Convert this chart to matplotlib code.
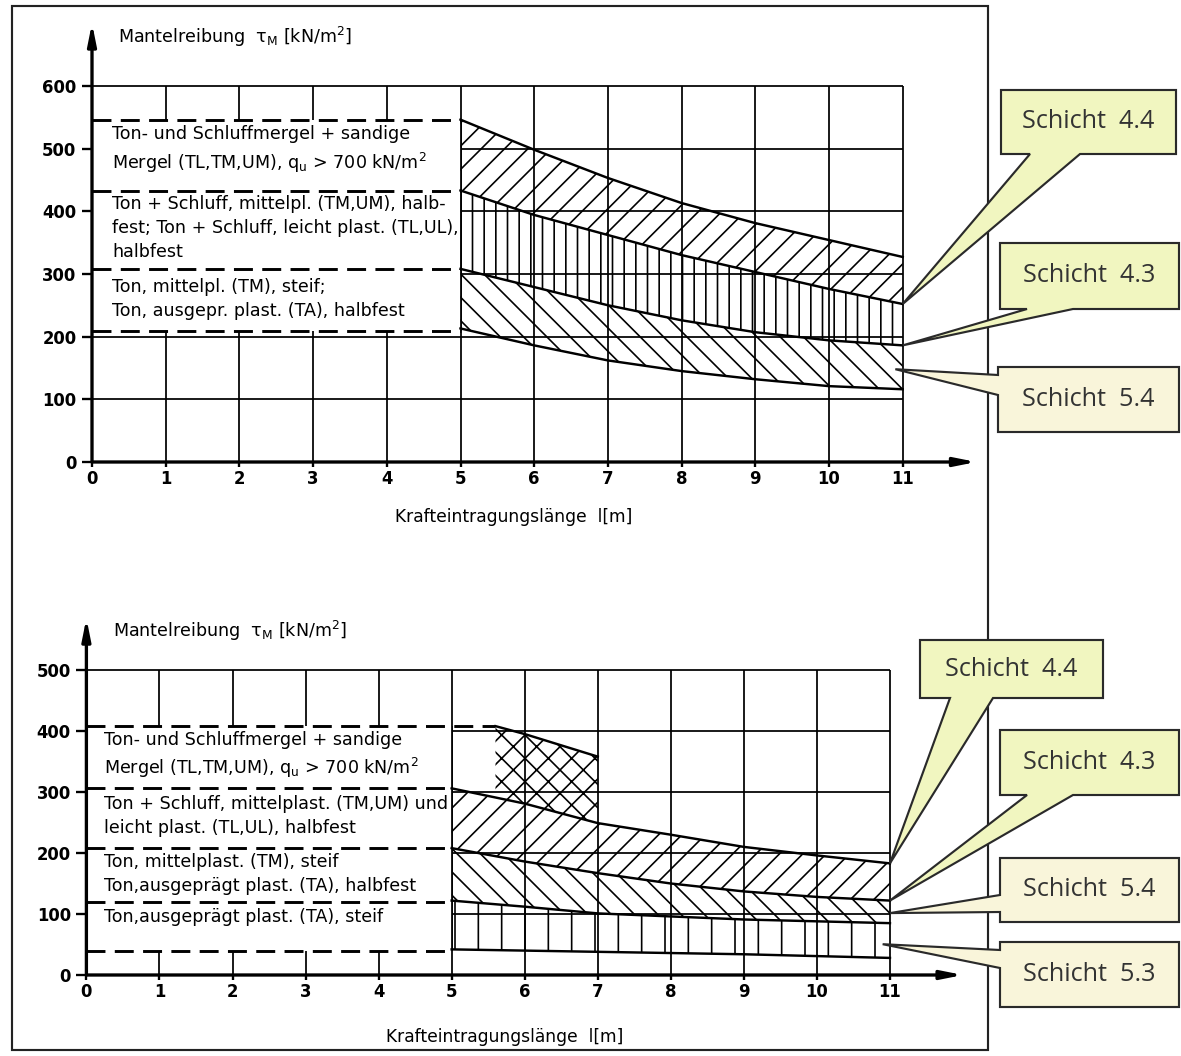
import numpy as np
import matplotlib
matplotlib.use("Agg")
import matplotlib.pyplot as plt
from matplotlib.patches import Rectangle, Polygon

W, H = 1181, 1056
DPI = 140

# ---------------- data ----------------
x_ticks = list(range(0, 12))
top_y_ticks = [0, 100, 200, 300, 400, 500, 600]
bot_y_ticks = [0, 100, 200, 300, 400, 500]

x_band = [5, 6, 7, 8, 9, 10, 11]

# upper chart
top_dashed = [546, 433, 308, 209]
top_44_upper = [546, 498, 453, 413, 381, 354, 327]
top_44_lower = [433, 394, 362, 330, 303, 276, 252]
top_43_lower = [308, 279, 250, 226, 207, 194, 186]
top_54_lower = [213, 186, 162, 145, 132, 121, 116]

top_texts = [
    "Ton- und Schluffmergel + sandige\nMergel (TL,TM,UM), q$_\\mathregular{u}$ > 700 kN/m$^\\mathregular{2}$",
    "Ton + Schluff, mittelpl. (TM,UM), halb-\nfest; Ton + Schluff, leicht plast. (TL,UL),\nhalbfest",
    "Ton, mittelpl. (TM), steif;\nTon, ausgepr. plast. (TA), halbfest",
]
top_text_y = [498, 373, 260]

# lower chart
bot_dashed = [408, 306, 208, 120, 40]
x_cross = [5.6, 6, 7]
bot_cross_upper = [408, 395, 358]
bot_44_upper = [306, 281, 249, 230, 210, 196, 183]
bot_44_lower = [208, 186, 167, 150, 137, 128, 122]
bot_54_lower = [122, 112, 101, 96, 91, 88, 85]
bot_53_lower = [42, 40, 38, 36, 34, 31, 28]

bot_texts = [
    "Ton- und Schluffmergel + sandige\nMergel (TL,TM,UM), q$_\\mathregular{u}$ > 700 kN/m$^\\mathregular{2}$",
    "Ton + Schluff, mittelplast. (TM,UM) und\nleicht plast. (TL,UL), halbfest",
    "Ton, mittelplast. (TM), steif\nTon,ausgeprägt plast. (TA), halbfest",
    "Ton,ausgeprägt plast. (TA), steif",
]
bot_text_y = [360, 261, 165, 95]

ylabel = "Mantelreibung  τ$_\\mathregular{M}$ [kN/m$^\\mathregular{2}$]"
xlabel = "Krafteintragungslänge  l[m]"

callouts_top = ["Schicht  4.4", "Schicht  4.3", "Schicht  5.4"]
callouts_bot = ["Schicht  4.4", "Schicht  4.3", "Schicht  5.4", "Schicht  5.3"]

# ---------------- style ----------------
plt.rcParams["font.family"] = ["DejaVu Sans"]
plt.rcParams["hatch.linewidth"] = 0.85
plt.rcParams["hatch.color"] = "black"

TXT = 9.0

fig = plt.figure(figsize=(W / DPI, H / DPI), dpi=DPI)
fig.patch.set_facecolor("white")


def fpx(px, py):
    return (px / W, 1 - py / H)


# outer frame
fig.add_artist(Rectangle(fpx(12, 1050), (988 - 12) / W, (1050 - 6) / H,
                         transform=fig.transFigure, fill=False, ec="#222222",
                         lw=1.1, zorder=0))


def setup_axes(rect, yticks, ymax):
    ax = fig.add_axes(rect)
    ax.set_xlim(0, 12)
    ax.set_ylim(0, ymax)
    for s in ax.spines.values():
        s.set_visible(False)
    ax.patch.set_alpha(0)
    ax.set_xticks(x_ticks)
    ax.set_yticks(yticks)
    ax.tick_params(axis="both", direction="out", width=1.2,
                   labelsize=8.5, colors="black")
    ax.tick_params(axis="x", length=2.5, pad=1.5)
    ax.tick_params(axis="y", length=5, pad=3)
    for lab in ax.get_xticklabels() + ax.get_yticklabels():
        lab.set_fontweight("bold")
    # grid
    for yv in yticks[1:]:
        ax.hlines(yv, 0, 11, color="black", lw=0.9, zorder=1)
    for xv in x_ticks[1:]:
        ax.vlines(xv, 0, yticks[-1], color="black", lw=0.9, zorder=1)
    # axes with arrows
    ax.annotate("", xy=(12, 0), xytext=(0, 0),
                arrowprops=dict(arrowstyle="-|>,head_length=0.9,head_width=0.18",
                                lw=1.7, color="black", shrinkA=0, shrinkB=0),
                annotation_clip=False, zorder=6)
    ax.annotate("", xy=(0, ymax), xytext=(0, 0),
                arrowprops=dict(arrowstyle="-|>,head_length=0.9,head_width=0.18",
                                lw=1.7, color="black", shrinkA=0, shrinkB=0),
                annotation_clip=False, zorder=6)
    return ax


def mask_and_dashes(ax, dashed, ends):
    lo, hi = min(dashed), max(dashed)
    ax.add_patch(Rectangle((0, lo), 5, hi - lo, fc="white", ec="none", zorder=1.5))
    ax.vlines(5, lo, hi, color="black", lw=0.9, zorder=1.6)
    for yv, xe in zip(dashed, ends):
        ax.plot([0, xe], [yv, yv], color="black", lw=1.5,
                linestyle=(0, (6.5, 3.2)), zorder=3)


def band(ax, x, lower, upper, hatch):
    ax.fill_between(x, lower, upper, facecolor="none", edgecolor="black",
                    hatch=hatch, linewidth=0, zorder=2)


def edge(ax, x, y):
    ax.plot(x, y, color="black", lw=1.25, zorder=3, solid_joinstyle="round")


def callout(ax, box, text, tip_xy, base, side, color):
    x0, y0, x1, y1 = box
    tip_disp = ax.transData.transform(tip_xy)
    tip_fig = fig.transFigure.inverted().transform(tip_disp)
    tip_px = (tip_fig[0] * W, (1 - tip_fig[1]) * H)
    if side == "bottom":
        verts = [(x0, y0), (x1, y0), (x1, y1), (base[1], y1), tip_px,
                 (base[0], y1), (x0, y1)]
    else:  # left
        verts = [(x0, y0), (x1, y0), (x1, y1), (x0, y1), (x0, base[1]),
                 tip_px, (x0, base[0])]
    verts = [fpx(*v) for v in verts]
    fig.add_artist(Polygon(verts, closed=True, transform=fig.transFigure,
                           fc=color, ec="#2a2a2a", lw=1.1, zorder=5))
    fig.text(*fpx((x0 + x1) / 2, (y0 + y1) / 2), text, ha="center",
             va="center", fontsize=13, color="#333333",
             family=["Open Sans", "DejaVu Sans"], zorder=6)


# ================= upper chart =================
axT = setup_axes([92 / W, (H - 462) / H, 12 * 73.7 / W, 700 * 0.627 / H],
                 top_y_ticks, 700)
mask_and_dashes(axT, top_dashed, [5] * len(top_dashed))
band(axT, x_band, top_44_lower, top_44_upper, "//")
band(axT, x_band, top_43_lower, top_44_lower, "||")
band(axT, x_band, top_54_lower, top_43_lower, "\\\\")
for ys in (top_44_upper, top_44_lower, top_43_lower, top_54_lower):
    edge(axT, x_band, ys)
for s, yv in zip(top_texts, top_text_y):
    axT.text(0.27, yv, s, fontsize=TXT, ha="left", va="center",
             linespacing=1.42, zorder=4)
axT.text(0.35, 678, ylabel, fontsize=TXT, ha="left", va="center")
fig.text(*fpx(514, 517), xlabel, fontsize=8.8, ha="center", va="center")

# ================= lower chart =================
axB = setup_axes([86.4 / W, (H - 975) / H, 12 * 73.05 / W, 585 * 0.61 / H],
                 bot_y_ticks, 585)
mask_and_dashes(axB, bot_dashed, [x_cross[0]] + [5] * (len(bot_dashed) - 1))
cross_lower = np.interp(x_cross, x_band, bot_44_upper)
band(axB, x_cross, cross_lower, bot_cross_upper, "xx")
band(axB, x_band, bot_44_lower, bot_44_upper, "//")
band(axB, x_band, bot_54_lower, bot_44_lower, "\\\\")
band(axB, x_band, bot_53_lower, bot_54_lower, "|")
edge(axB, x_cross, bot_cross_upper)
for ys in (bot_44_upper, bot_44_lower, bot_54_lower, bot_53_lower):
    edge(axB, x_band, ys)
for s, yv in zip(bot_texts, bot_text_y):
    axB.text(0.24, yv, s, fontsize=TXT, ha="left", va="center",
             linespacing=1.42, zorder=4)
axB.text(0.36, 564, ylabel, fontsize=TXT, ha="left", va="center")
fig.text(*fpx(505, 1037), xlabel, fontsize=8.8, ha="center", va="center")

# ================= callouts =================
GREEN = "#f1f6c0"
CREAM = "#f9f5da"
callout(axT, (1001, 90, 1176, 154), callouts_top[0], (11, top_44_lower[-1]),
        (1030, 1080), "bottom", GREEN)
callout(axT, (1000, 243, 1179, 309), callouts_top[1], (11, top_43_lower[-1]),
        (1027, 1073), "bottom", GREEN)
callout(axT, (998, 367, 1179, 432), callouts_top[2],
        (10.9, (top_43_lower[-1] + top_54_lower[-1]) / 2 - 3),
        (375, 395), "left", CREAM)

callout(axB, (920, 640, 1103, 698), callouts_bot[0], (11, bot_44_upper[-1]),
        (950, 993), "bottom", GREEN)
callout(axB, (1000, 730, 1179, 795), callouts_bot[1], (11, bot_44_lower[-1]),
        (1027, 1073), "bottom", GREEN)
callout(axB, (1000, 858, 1179, 922), callouts_bot[2],
        (11, (bot_44_lower[-1] + bot_54_lower[-1]) / 2 - 2),
        (895, 912), "left", CREAM)
callout(axB, (1000, 942, 1179, 1007), callouts_bot[3],
        (10.9, (bot_54_lower[-1] + bot_53_lower[-1]) / 2 - 6),
        (950, 968), "left", CREAM)

fig.savefig("out.png", dpi=DPI)
